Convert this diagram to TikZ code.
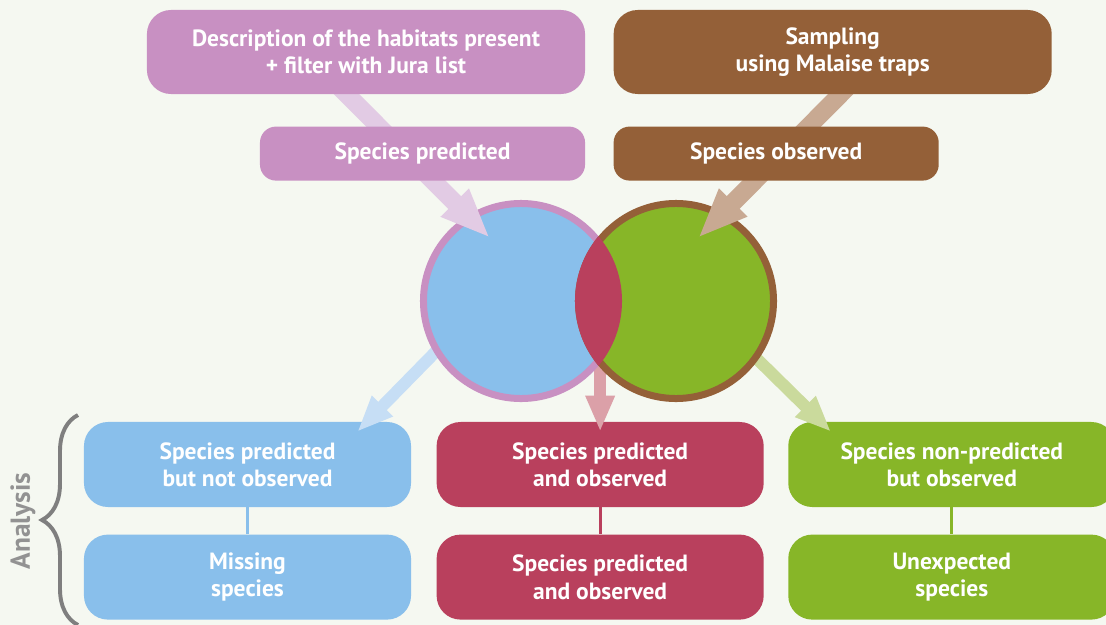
\documentclass[tikz,border=0pt]{standalone}
\usepackage{fontspec}
\setmainfont{PT Sans}
\usepackage{tikz}
\usetikzlibrary{arrows.meta, positioning, calc, decorations.pathreplacing}
\definecolor{vpaper}{HTML}{F5F8F1}
\definecolor{vpink}{HTML}{C890C2}
\definecolor{vpinklt}{HTML}{E2CBE4}
\definecolor{vbrown}{HTML}{946038}
\definecolor{vbrownlt}{HTML}{C8A992}
\definecolor{vblue}{HTML}{89BFEB}
\definecolor{vbluelt}{HTML}{C6DEF5}
\definecolor{vgreen}{HTML}{87B628}
\definecolor{vgreenlt}{HTML}{CADA9C}
\definecolor{vred}{HTML}{B9405D}
\definecolor{vredlt}{HTML}{DBA0A8}
\definecolor{vgrey}{HTML}{7F7F7F}
\pgfdeclarelayer{back}
\pgfsetlayers{back,main}
\tikzset{
  tbox/.style={rounded corners=0.6cm, text=white, align=center, inner sep=0pt, font=\fontsize{16.7}{19.5}\selectfont\bfseries},
  tbig/.style={tbox, minimum width=10.95cm, minimum height=2.1cm},
  tsmall/.style={tbox, minimum width=8.125cm, minimum height=1.35cm, rounded corners=0.4cm},
  tres/.style={tbox, minimum width=8.175cm, minimum height=2.125cm},
  tcirc/.style={circle, minimum size=4.875cm, inner sep=0pt, line width=0.175cm},
  tflow/.style={-{Triangle[length=1.25cm, width=0.9cm]}, line width=0.45cm},
  tflowS/.style={-{Triangle[length=0.9cm, width=0.675cm]}, line width=0.3cm},
  tlink/.style={line width=2pt},
  tbrace/.style={decorate, decoration={brace, amplitude=0.9cm}, line width=2.8pt, vgrey},
}

\begin{document}
\begin{tikzpicture}[x=0.025cm, y=-0.025cm]
    \useasboundingbox (0,0) rectangle (1106,625);
    % inputs
    \node[tbig, fill=vpink] (desc) at (366,52) {Description of the habitats present\\+ filter with Jura list};
    \node[tbig, fill=vbrown, right=0.7cm of desc] (sampl) {Sampling\\using Malaise traps};
    \node[tsmall, fill=vpink, below=0.8cm of desc.south east, anchor=north east] (pred) {Species predicted};
    \node[tsmall, fill=vbrown, below=0.8cm of sampl.south west, anchor=north west] (obs) {Species observed};
    \begin{pgfonlayer}{back}
      \fill[vpaper] (0,0) rectangle (1106,625);
      % analysis
      \node[tres, fill=vblue] (predonly) at (247.5,464.5) {Species predicted\\but not observed};
      \node[tres, fill=vred, right=0.625cm of predonly] (both) {Species predicted\\and observed};
      \node[tres, fill=vgreen, right=0.6cm of both] (obsonly) {Species non-predicted\\but observed};
      \node[tres, fill=vblue, below=0.675cm of predonly] (missing) {Missing\\species};
      \node[tres, fill=vred, below=0.675cm of both] (bothres) {Species predicted\\and observed};
      \node[tres, fill=vgreen, below=0.675cm of obsonly] (unexp) {Unexpected\\species};
      \draw[tlink, vblue] (predonly) -- (missing);
      \draw[tlink, vred] (both) -- (bothres);
      \draw[tlink, vgreen] (obsonly) -- (unexp);
      \coordinate (brtop) at (78,415);
      \coordinate (brbot) at (78,625);
      \draw[tbrace] (brbot) -- (brtop);
      \node[rotate=90, text=vgrey!85!white, font=\fontsize{19.5}{22}\selectfont\bfseries] (analysis) at (23,521) {Analysis};
      % venn
      \coordinate (vl) at (521,301);
      \coordinate (vr) at (676,301);
      \draw[tflowS, vbluelt] ($(vl)+(-66,31)$) -- ($(predonly.north east)+(-54,10)$);
      \draw[tflowS, vredlt] ($(both.north)+(0,-72)$) -- ($(both.north)+(0,10)$);
      \draw[tflowS, vgreenlt] ($(vr)+(74,51)$) -- ($(obsonly.north west)+(43,10)$);
      \node[tcirc, fill=vblue, draw=vpink] (cpred) at (vl) {};
      \node[tcirc, fill=vgreen, draw=vbrown] (cobs) at (vr) {};
      \begin{scope}
        \clip (cpred.center) circle[radius=2.525cm];
        \fill[vred] (cobs.center) circle[radius=2.525cm];
      \end{scope}
      \draw[tflow, vpinklt] ($(desc.south west)+(186,-14)$) -- ($(cpred.center)+(-31,-63)$);
      \draw[tflow, vbrownlt] ($(sampl.south west)+(241,-14)$) -- ($(cobs.center)+(22,-63)$);
    \end{pgfonlayer}
\end{tikzpicture}
\end{document}
